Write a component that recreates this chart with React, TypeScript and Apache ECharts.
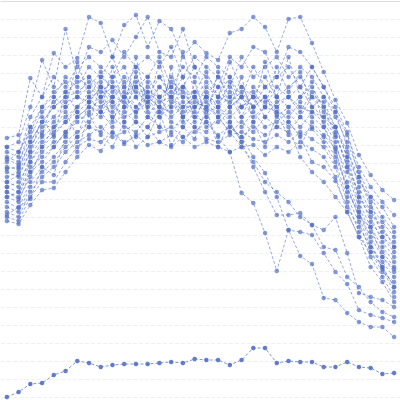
import React, { useEffect, useRef } from "react";
import * as echarts from "echarts";

const categories = ["1","2","3","4","5","6","7","8","9","10","11","12","13","14","15","16","17","18","19","20","21","22","23","24","25","26","27","28","29","30","31","32","33","34"];

const yTicks = { min: 0, max: 396, interval: 18 };

const m1 = [259, 262, 319, 300, 344, 330, 339, 380, 374, 340, 372, 382, 350, 376, 368, 340, 355, 344, 337, 364, 368, 380, 370, 345, 378, 380, 354, 325, 297, 274, 242, 222, 207, 197];
const m2 = [250, 255, 290, 337, 310, 368, 320, 350, 345, 357, 340, 360, 380, 345, 340, 368, 330, 320, 310, 340, 330, 350, 345, 320, 350, 345, 330, 310, 285, 262, 230, 210, 195, 182];
const m3 = [245, 240, 280, 300, 320, 310, 330, 340, 330, 320, 345, 330, 340, 330, 350, 320, 340, 330, 320, 310, 340, 320, 330, 340, 320, 330, 320, 300, 280, 255, 225, 200, 190, 170];
const m4 = [235, 245, 265, 290, 300, 320, 310, 330, 320, 340, 310, 330, 320, 340, 310, 330, 320, 340, 330, 320, 300, 330, 310, 320, 330, 310, 330, 310, 290, 265, 220, 190, 175, 160];
const m5 = [228, 230, 255, 275, 290, 300, 320, 310, 300, 320, 330, 300, 310, 320, 300, 310, 330, 300, 320, 300, 310, 300, 320, 300, 310, 320, 300, 295, 270, 240, 215, 200, 180, 165];
const m6 = [220, 225, 250, 270, 280, 295, 300, 320, 310, 290, 300, 320, 300, 290, 320, 300, 290, 310, 300, 320, 290, 310, 300, 290, 300, 310, 290, 300, 285, 250, 210, 185, 170, 150];
const m7 = [215, 210, 240, 260, 270, 280, 290, 300, 320, 310, 290, 310, 290, 310, 300, 280, 300, 290, 310, 290, 300, 290, 310, 300, 290, 300, 310, 290, 270, 245, 220, 195, 160, 145];
const m8 = [210, 215, 235, 255, 265, 275, 285, 295, 290, 300, 310, 290, 300, 280, 290, 310, 280, 300, 290, 280, 290, 300, 280, 295, 300, 290, 285, 280, 260, 235, 200, 180, 155, 140];
const m9 = [205, 200, 230, 240, 250, 265, 275, 285, 300, 280, 290, 300, 280, 300, 280, 290, 300, 280, 290, 300, 280, 290, 300, 280, 290, 280, 300, 285, 265, 230, 195, 170, 150, 135];
const m10 = [200, 205, 225, 245, 255, 260, 280, 290, 280, 295, 280, 285, 295, 280, 295, 280, 290, 295, 280, 290, 300, 280, 290, 285, 280, 295, 280, 270, 250, 225, 190, 165, 145, 130];
const m11 = [195, 189, 215, 230, 240, 255, 265, 275, 285, 270, 285, 275, 270, 290, 275, 270, 285, 270, 275, 285, 270, 285, 270, 275, 285, 270, 285, 275, 255, 215, 185, 160, 140, 125];
const m12 = [190, 185, 210, 225, 235, 250, 260, 270, 265, 280, 270, 265, 280, 270, 265, 280, 270, 265, 280, 265, 275, 265, 280, 270, 265, 280, 270, 260, 240, 210, 180, 150, 135, 120];
const m13 = [185, 180, 205, 220, 230, 245, 255, 262, 270, 260, 265, 275, 260, 265, 270, 260, 265, 275, 262, 270, 260, 270, 262, 270, 275, 262, 268, 255, 235, 200, 175, 145, 130, 110];
const m14 = [180, 176, 200, 215, 215, 235, 250, 258, 255, 265, 255, 260, 270, 255, 262, 255, 270, 258, 255, 262, 265, 258, 255, 262, 255, 265, 258, 250, 230, 195, 165, 140, 120, 100];
const m15 = [176, 173, 192, 207, 209, 225, 240, 252, 246, 264, 253, 262, 252, 255, 250, 260, 250, 255, 250, 245, 250, 252, 242, 250, 245, 255, 248, 240, 220, 185, 160, 130, 115, 95];
const n1 = [205, 198, 220, 250, 270, 285, 260, 295, 310, 275, 305, 280, 315, 285, 300, 320, 275, 305, 290, 315, 280, 305, 290, 310, 300, 285, 305, 290, 262, 230, 205, 175, 160, 150];
const n2 = [238, 232, 270, 262, 300, 290, 335, 300, 285, 330, 290, 340, 290, 335, 290, 345, 305, 325, 300, 335, 310, 290, 335, 300, 340, 300, 315, 270, 245, 210, 180, 170, 140, 128];
const n3 = [182, 190, 198, 230, 222, 262, 245, 282, 262, 250, 275, 250, 260, 285, 252, 270, 258, 288, 250, 275, 255, 275, 250, 282, 262, 250, 275, 262, 248, 205, 185, 155, 128, 105];
const n4 = [215, 222, 245, 280, 260, 305, 285, 270, 315, 295, 275, 325, 285, 270, 330, 275, 315, 280, 325, 290, 320, 275, 290, 330, 305, 325, 290, 280, 270, 240, 200, 185, 165, 155];
const e1 = [200, 195, 225, 235, 250, 265, 280, 290, 285, 300, 295, 285, 300, 290, 285, 295, 280, 275, 260, 245, 204, 194, 164, 126, 167, 141, 133, 99, 97, 84, 75, 70, 70, 60];
const e2 = [225, 220, 245, 265, 275, 290, 300, 295, 310, 300, 315, 305, 295, 310, 300, 290, 300, 285, 290, 275, 255, 230, 205, 182, 182, 184, 172, 167, 180, 144, 104, 100, 97, 90];
const e3 = [240, 235, 260, 285, 295, 305, 315, 320, 305, 315, 300, 310, 320, 300, 315, 305, 290, 300, 285, 270, 260, 240, 224, 200, 167, 165, 162, 144, 125, 113, 87, 82, 79, 75];
const e4 = [210, 205, 235, 250, 262, 275, 290, 305, 295, 285, 300, 290, 305, 295, 300, 285, 295, 290, 280, 265, 250, 235, 215, 205, 195, 180, 172, 150, 147, 120, 110, 95, 85, 80];
const d1 = [230, 228, 255, 275, 290, 300, 305, 315, 300, 310, 300, 315, 305, 300, 310, 300, 305, 300, 295, 305, 290, 300, 295, 290, 275, 260, 235, 230, 216, 190, 170, 150, 130, 110];
const d2 = [250, 245, 270, 290, 305, 315, 300, 310, 325, 305, 320, 310, 300, 320, 305, 310, 300, 315, 300, 295, 305, 290, 300, 285, 270, 240, 225, 215, 200, 185, 160, 145, 125, 115];
const bottom = [0, 5, 13, 14, 22, 26, 36, 34, 30, 32, 33, 33, 33, 34, 35, 34, 38, 37, 37, 32, 37, 49, 49, 34, 36, 35, 35, 30, 30, 35, 30, 29, 23, 24];

const seriesData = [m1, m2, m3, m4, m5, m6, m7, m8, m9, m10, m11, m12, m13, m14, m15, n1, n2, n3, n4, e1, e2, e3, e4, d1, d2];

export default function App() {
  const ref = useRef<HTMLDivElement>(null);
  useEffect(() => {
    if (!ref.current) return;
    const chart = echarts.init(ref.current, undefined, { renderer: "svg" });
    const mk = (data: number[], name: string, lineOp: number, itemOp: number) => ({
      type: "line",
      name,
      data,
      symbol: "circle",
      symbolSize: 4.5,
      lineStyle: { type: [3, 2], width: 1, opacity: lineOp, color: "#5470c6" },
      itemStyle: { color: "#5470c6", opacity: itemOp },
    });
    chart.setOption({
      animation: false,
      grid: { left: 1, right: -2, top: 1, bottom: 3 },
      xAxis: {
        type: "category",
        data: categories,
        position: "top",
        boundaryGap: true,
        axisLine: { show: true, onZero: false, lineStyle: { color: "#dcdcdc" } },
        axisTick: { show: false },
        axisLabel: { show: false },
      },
      yAxis: {
        type: "value",
        min: yTicks.min,
        max: yTicks.max,
        interval: yTicks.interval,
        axisLine: { show: false },
        axisTick: { show: false },
        axisLabel: { show: false },
        splitLine: { lineStyle: { type: "dashed", color: "#f0f0f0" } },
      },
      series: [
        ...seriesData.map((d, i) => mk(d, "s" + i, 0.6, 0.7)),
        mk(bottom, "bottom", 0.75, 0.9),
      ],
    });
    return () => chart.dispose();
  }, []);
  return <div ref={ref} style={{ position: "fixed", left: 0, top: 0, width: 400, height: 400 }} />;
}
